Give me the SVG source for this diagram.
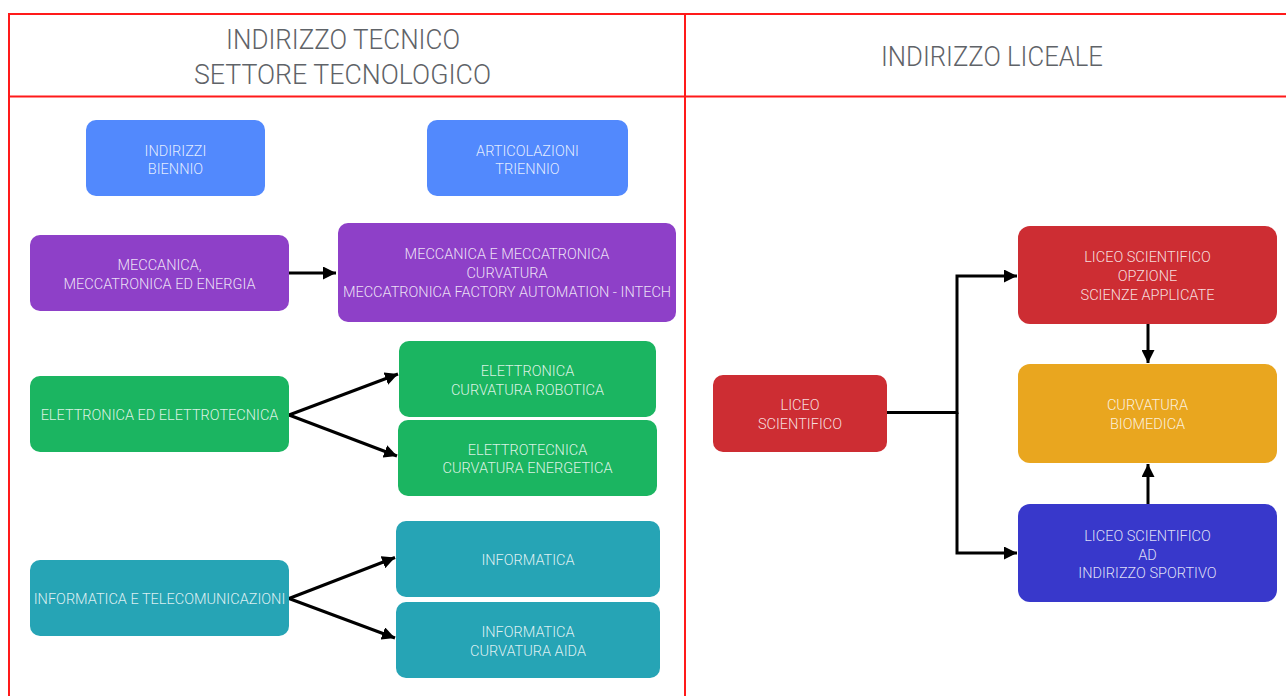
<svg xmlns="http://www.w3.org/2000/svg" width="1286" height="696" viewBox="0 0 1286 696">
<style>
.hdr{font-family:Roboto,"Liberation Sans",sans-serif;font-weight:300;font-size:27px;fill:#5f6368;text-anchor:middle}
.t{font-family:Roboto,"Liberation Sans",sans-serif;font-weight:300;font-size:14.5px;fill:#ffffff;fill-opacity:0.85;text-anchor:middle}
.frame{stroke:#ff1a1a;stroke-width:2;fill:none}
.c{stroke:#000;stroke-width:3;fill:none}
.blue{fill:#5289fd}.purple{fill:#8e40c8}.green{fill:#1bb561}.teal{fill:#26a4b5}.red{fill:#cd2d33}.orange{fill:#e9a61f}.navy{fill:#3838cb}
</style>
<defs>
<marker id="ah" markerUnits="userSpaceOnUse" markerWidth="13" markerHeight="13" refX="13" refY="6.5" orient="auto">
<path d="M0,0 L13,6.5 L0,13 z" fill="#000"/>
</marker>
</defs>
<rect width="1286" height="696" fill="#fff"/>
<g id="frame">
<path class="frame" d="M9,696 V14 H1286 M685,14 V696 M9,96.5 H1286"/>
<text class="hdr" x="343" y="49" textLength="234" lengthAdjust="spacingAndGlyphs">INDIRIZZO TECNICO</text>
<text class="hdr" x="342.5" y="84" textLength="297" lengthAdjust="spacingAndGlyphs">SETTORE TECNOLOGICO</text>
<text class="hdr" x="992" y="66" textLength="222" lengthAdjust="spacingAndGlyphs">INDIRIZZO LICEALE</text>
</g>
<g id="connectors">
<path class="c" d="M289,273 H336" marker-end="url(#ah)"/>
<path class="c" d="M289,415 L398,374" marker-end="url(#ah)"/>
<path class="c" d="M289,415 L397,456" marker-end="url(#ah)"/>
<path class="c" d="M289,598.5 L395,557.5" marker-end="url(#ah)"/>
<path class="c" d="M289,598.5 L395,638" marker-end="url(#ah)"/>
<path class="c" d="M887,412.5 H957 V276 H1017" marker-end="url(#ah)"/>
<path class="c" d="M957,412.5 V553 H1017" marker-end="url(#ah)"/>
<path class="c" d="M1148,324 V363" marker-end="url(#ah)"/>
<path class="c" d="M1148,504 V464" marker-end="url(#ah)"/>
</g>
<g id="n-biennio"><rect class="blue" x="86" y="120" width="179" height="76" rx="10"/>
<text class="t" x="175.5" y="155.5">INDIRIZZI</text><text class="t" x="175.5" y="174">BIENNIO</text></g>
<g id="n-triennio"><rect class="blue" x="427" y="120" width="201" height="76" rx="10"/>
<text class="t" x="527.5" y="155.5">ARTICOLAZIONI</text><text class="t" x="527.5" y="174">TRIENNIO</text></g>
<g id="n-mecc"><rect class="purple" x="30" y="235" width="259" height="76" rx="10"/>
<text class="t" x="159.5" y="270">MECCANICA,</text><text class="t" x="159.5" y="288.5">MECCATRONICA ED ENERGIA</text></g>
<g id="n-mecc2"><rect class="purple" x="338" y="223" width="338" height="99" rx="10"/>
<text class="t" x="507" y="259">MECCANICA E MECCATRONICA</text><text class="t" x="507" y="278">CURVATURA</text><text class="t" x="507" y="296.5">MECCATRONICA FACTORY AUTOMATION - INTECH</text></g>
<g id="n-elet"><rect class="green" x="30" y="376" width="259" height="76" rx="10"/>
<text class="t" x="159.5" y="420">ELETTRONICA ED ELETTROTECNICA</text></g>
<g id="n-robotica"><rect class="green" x="399" y="341" width="257" height="76" rx="10"/>
<text class="t" x="527.5" y="376">ELETTRONICA</text><text class="t" x="527.5" y="394.5">CURVATURA ROBOTICA</text></g>
<g id="n-energetica"><rect class="green" x="398" y="420" width="259" height="76" rx="10"/>
<text class="t" x="527.5" y="455">ELETTROTECNICA</text><text class="t" x="527.5" y="473">CURVATURA ENERGETICA</text></g>
<g id="n-info"><rect class="teal" x="30" y="560" width="259" height="76" rx="10"/>
<text class="t" x="159.5" y="604">INFORMATICA E TELECOMUNICAZIONI</text></g>
<g id="n-informatica"><rect class="teal" x="396" y="521" width="264" height="76" rx="10"/>
<text class="t" x="528" y="565">INFORMATICA</text></g>
<g id="n-aida"><rect class="teal" x="396" y="602" width="264" height="76" rx="10"/>
<text class="t" x="528" y="637">INFORMATICA</text><text class="t" x="528" y="656">CURVATURA AIDA</text></g>
<g id="n-liceo"><rect class="red" x="713" y="375" width="174" height="77" rx="10"/>
<text class="t" x="800" y="410">LICEO</text><text class="t" x="800" y="429">SCIENTIFICO</text></g>
<g id="n-opzione"><rect class="red" x="1018" y="226" width="259" height="98" rx="12"/>
<text class="t" x="1147.5" y="262">LICEO SCIENTIFICO</text><text class="t" x="1147.5" y="281">OPZIONE</text><text class="t" x="1147.5" y="299.5">SCIENZE APPLICATE</text></g>
<g id="n-biomedica"><rect class="orange" x="1018" y="364" width="259" height="99" rx="12"/>
<text class="t" x="1147.5" y="410">CURVATURA</text><text class="t" x="1147.5" y="429">BIOMEDICA</text></g>
<g id="n-sportivo"><rect class="navy" x="1018" y="504" width="259" height="98" rx="12"/>
<text class="t" x="1147.5" y="541">LICEO SCIENTIFICO</text><text class="t" x="1147.5" y="559.5">AD</text><text class="t" x="1147.5" y="578">INDIRIZZO SPORTIVO</text></g>
</svg>
